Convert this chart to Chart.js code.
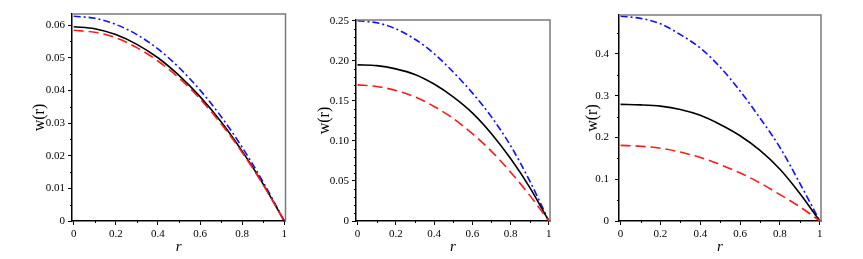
<!DOCTYPE html>
<html>
<head>
<meta charset="utf-8">
<script src="https://cdn.jsdelivr.net/npm/chart.js@4.4.0/dist/chart.umd.min.js"></script>
<style>
  html, body { margin: 0; padding: 0; background: #fff; }
  #wrap { position: relative; width: 863px; height: 259px; overflow: hidden; }
  #wrap canvas { position: absolute; top: 0; }
</style>
</head>
<body>
<div id="wrap">
  <canvas id="panel1" width="290" height="259" style="left:0px"></canvas>
  <canvas id="panel2" width="280" height="259" style="left:290px"></canvas>
  <canvas id="panel3" width="288" height="259" style="left:575px"></canvas>
</div>
<script>
// radial coordinate, shared by all three panels
const rValues = [0, 0.1, 0.2, 0.3, 0.4, 0.5, 0.6, 0.7, 0.8, 0.9, 1];
const xTickValues = [0, 0.2, 0.4, 0.6, 0.8, 1];
const xTickLabels = ['0', '0.2', '0.4', '0.6', '0.8', '1'];
const xMinorTicks = [0.1, 0.3, 0.5, 0.7, 0.9];

// panel 1
const p1Blue  = [0.0627, 0.0621, 0.0602, 0.0571, 0.0527, 0.0470, 0.0401, 0.0320, 0.0226, 0.0119, 0];
const p1Black = [0.0595, 0.0589, 0.0571, 0.0541, 0.0500, 0.0446, 0.0381, 0.0304, 0.0214, 0.0113, 0];
const p1Red   = [0.0584, 0.0578, 0.0561, 0.0531, 0.0490, 0.0438, 0.0374, 0.0298, 0.0210, 0.0111, 0];
const p1YTicks  = [0, 0.01, 0.02, 0.03, 0.04, 0.05, 0.06];
const p1YLabels = ['0', '0.01', '0.02', '0.03', '0.04', '0.05', '0.06'];
const p1YMinor  = [0.005, 0.015, 0.025, 0.035, 0.045, 0.055];

// panel 2
const p2Blue  = [0.250, 0.2475, 0.240, 0.227, 0.209, 0.186, 0.160, 0.130, 0.094, 0.050, 0];
const p2Black = [0.195, 0.194, 0.190, 0.183, 0.171, 0.155, 0.135, 0.109, 0.078, 0.042, 0];
const p2Red   = [0.170, 0.168, 0.163, 0.155, 0.143, 0.128, 0.109, 0.087, 0.061, 0.032, 0];
const p2YTicks  = [0, 0.05, 0.10, 0.15, 0.20, 0.25];
const p2YLabels = ['0', '0.05', '0.10', '0.15', '0.20', '0.25'];
const p2YMinor  = [0.01, 0.02, 0.03, 0.04, 0.06, 0.07, 0.08, 0.09, 0.11, 0.12, 0.13, 0.14,
                   0.16, 0.17, 0.18, 0.19, 0.21, 0.22, 0.23, 0.24];

// panel 3
const p3Blue  = [0.490, 0.485, 0.472, 0.446, 0.414, 0.368, 0.311, 0.246, 0.176, 0.090, 0];
const p3Black = [0.279, 0.278, 0.275, 0.267, 0.253, 0.231, 0.204, 0.169, 0.124, 0.066, 0];
const p3Red   = [0.181, 0.179, 0.174, 0.165, 0.152, 0.135, 0.115, 0.091, 0.063, 0.034, 0];
const p3YTicks  = [0, 0.1, 0.2, 0.3, 0.4];
const p3YLabels = ['0', '0.1', '0.2', '0.3', '0.4'];
const p3YMinor  = [0.05, 0.15, 0.25, 0.35, 0.45];

const serif = 'Liberation Serif';

// draws the grey top/right frame and the small minor ticks
const framePlugin = {
  id: 'frame',
  afterDraw(chart, args, opts) {
    const ctx = chart.ctx;
    const a = chart.chartArea;
    const xs = chart.scales.x, ys = chart.scales.y;
    ctx.save();
    ctx.strokeStyle = '#7a7a7a';
    ctx.lineWidth = 1.5;
    ctx.beginPath();
    ctx.moveTo(a.left, a.top);
    ctx.lineTo(a.right, a.top);
    ctx.lineTo(a.right, a.bottom);
    ctx.stroke();

    ctx.strokeStyle = '#000';
    ctx.lineWidth = 1;
    ctx.beginPath();
    opts.xMinor.forEach(v => {
      const px = Math.round(xs.getPixelForValue(v)) + 0.5;
      ctx.moveTo(px, a.bottom);
      ctx.lineTo(px, a.bottom + 2);
    });
    opts.yMinor.forEach(v => {
      const py = Math.round(ys.getPixelForValue(v)) + 0.5;
      ctx.moveTo(a.left, py);
      ctx.lineTo(a.left - 2, py);
    });
    ctx.stroke();
    ctx.restore();
  }
};

function toPoints(ys) {
  return rValues.map((r, i) => ({ x: r, y: ys[i] }));
}

function makePanel(id, blue, black, red, yTicks, yLabels, yMinor, yMax, lay) {
  const line = (data, color, dash) => ({
    data: toPoints(data),
    borderColor: color,
    borderWidth: 1.6,
    borderDash: dash,
    pointRadius: 0,
    cubicInterpolationMode: 'monotone',
    fill: false,
    clip: false
  });

  new Chart(document.getElementById(id), {
    type: 'line',
    data: {
      datasets: [
        line(red, '#ff1a1a', [10, 5]),
        line(black, '#000000', []),
        line(blue, '#1010ff', [7, 3, 2, 3])
      ]
    },
    options: {
      responsive: false,
      animation: false,
      events: [],
      layout: { padding: { left: lay.padLeft, right: lay.padRight, top: lay.padTop, bottom: 0 } },
      plugins: {
        legend: { display: false },
        tooltip: { enabled: false },
        frame: { xMinor: xMinorTicks, yMinor: yMinor }
      },
      scales: {
        x: {
          type: 'linear',
          min: -0.008,
          max: 1.006,
          afterBuildTicks: s => { s.ticks = xTickValues.map(v => ({ value: v })); },
          afterFit: s => { s.height = 38; },
          ticks: {
            callback: v => { const i = xTickValues.indexOf(v); return i < 0 ? '' : xTickLabels[i]; },
            font: { family: serif, size: 11 },
            color: '#000',
            padding: 3,
            maxRotation: 0,
            autoSkip: false
          },
          grid: { drawOnChartArea: false, tickLength: 4, tickColor: '#000', tickWidth: 1 },
          border: { color: '#000', width: 1.5 },
          title: {
            display: true,
            text: 'r',
            color: '#000',
            font: { family: serif, size: 15, style: 'italic' },
            padding: { top: 0, bottom: 3 }
          }
        },
        y: {
          type: 'linear',
          min: 0,
          max: yMax,
          afterBuildTicks: s => { s.ticks = yTicks.map(v => ({ value: v })); },
          afterFit: s => { s.width = lay.yWidth; },
          ticks: {
            callback: v => { const i = yTicks.indexOf(v); return i < 0 ? '' : yLabels[i]; },
            font: { family: serif, size: 11 },
            color: '#000',
            padding: lay.tickPad,
            autoSkip: false
          },
          grid: { drawOnChartArea: false, tickLength: 4, tickColor: '#000', tickWidth: 1 },
          border: { color: '#000', width: 1.5 },
          title: {
            display: true,
            text: 'w(r)',
            color: '#000',
            font: { family: serif, size: 16 },
            padding: { top: 4, bottom: 0 }
          }
        }
      }
    },
    plugins: [framePlugin]
  });
}

makePanel('panel1', p1Blue, p1Black, p1Red, p1YTicks, p1YLabels, p1YMinor, 0.0634,
  { padLeft: 26, yWidth: 46, padRight: 2, padTop: 14, tickPad: 3 });
makePanel('panel2', p2Blue, p2Black, p2Red, p2YTicks, p2YLabels, p2YMinor, 0.251,
  { padLeft: 21, yWidth: 45, padRight: 20, padTop: 20, tickPad: 3 });
makePanel('panel3', p3Blue, p3Black, p3Red, p3YTicks, p3YLabels, p3YMinor, 0.493,
  { padLeft: 4, yWidth: 40, padRight: 42, padTop: 15, tickPad: 6 });
</script>
</body>
</html>
